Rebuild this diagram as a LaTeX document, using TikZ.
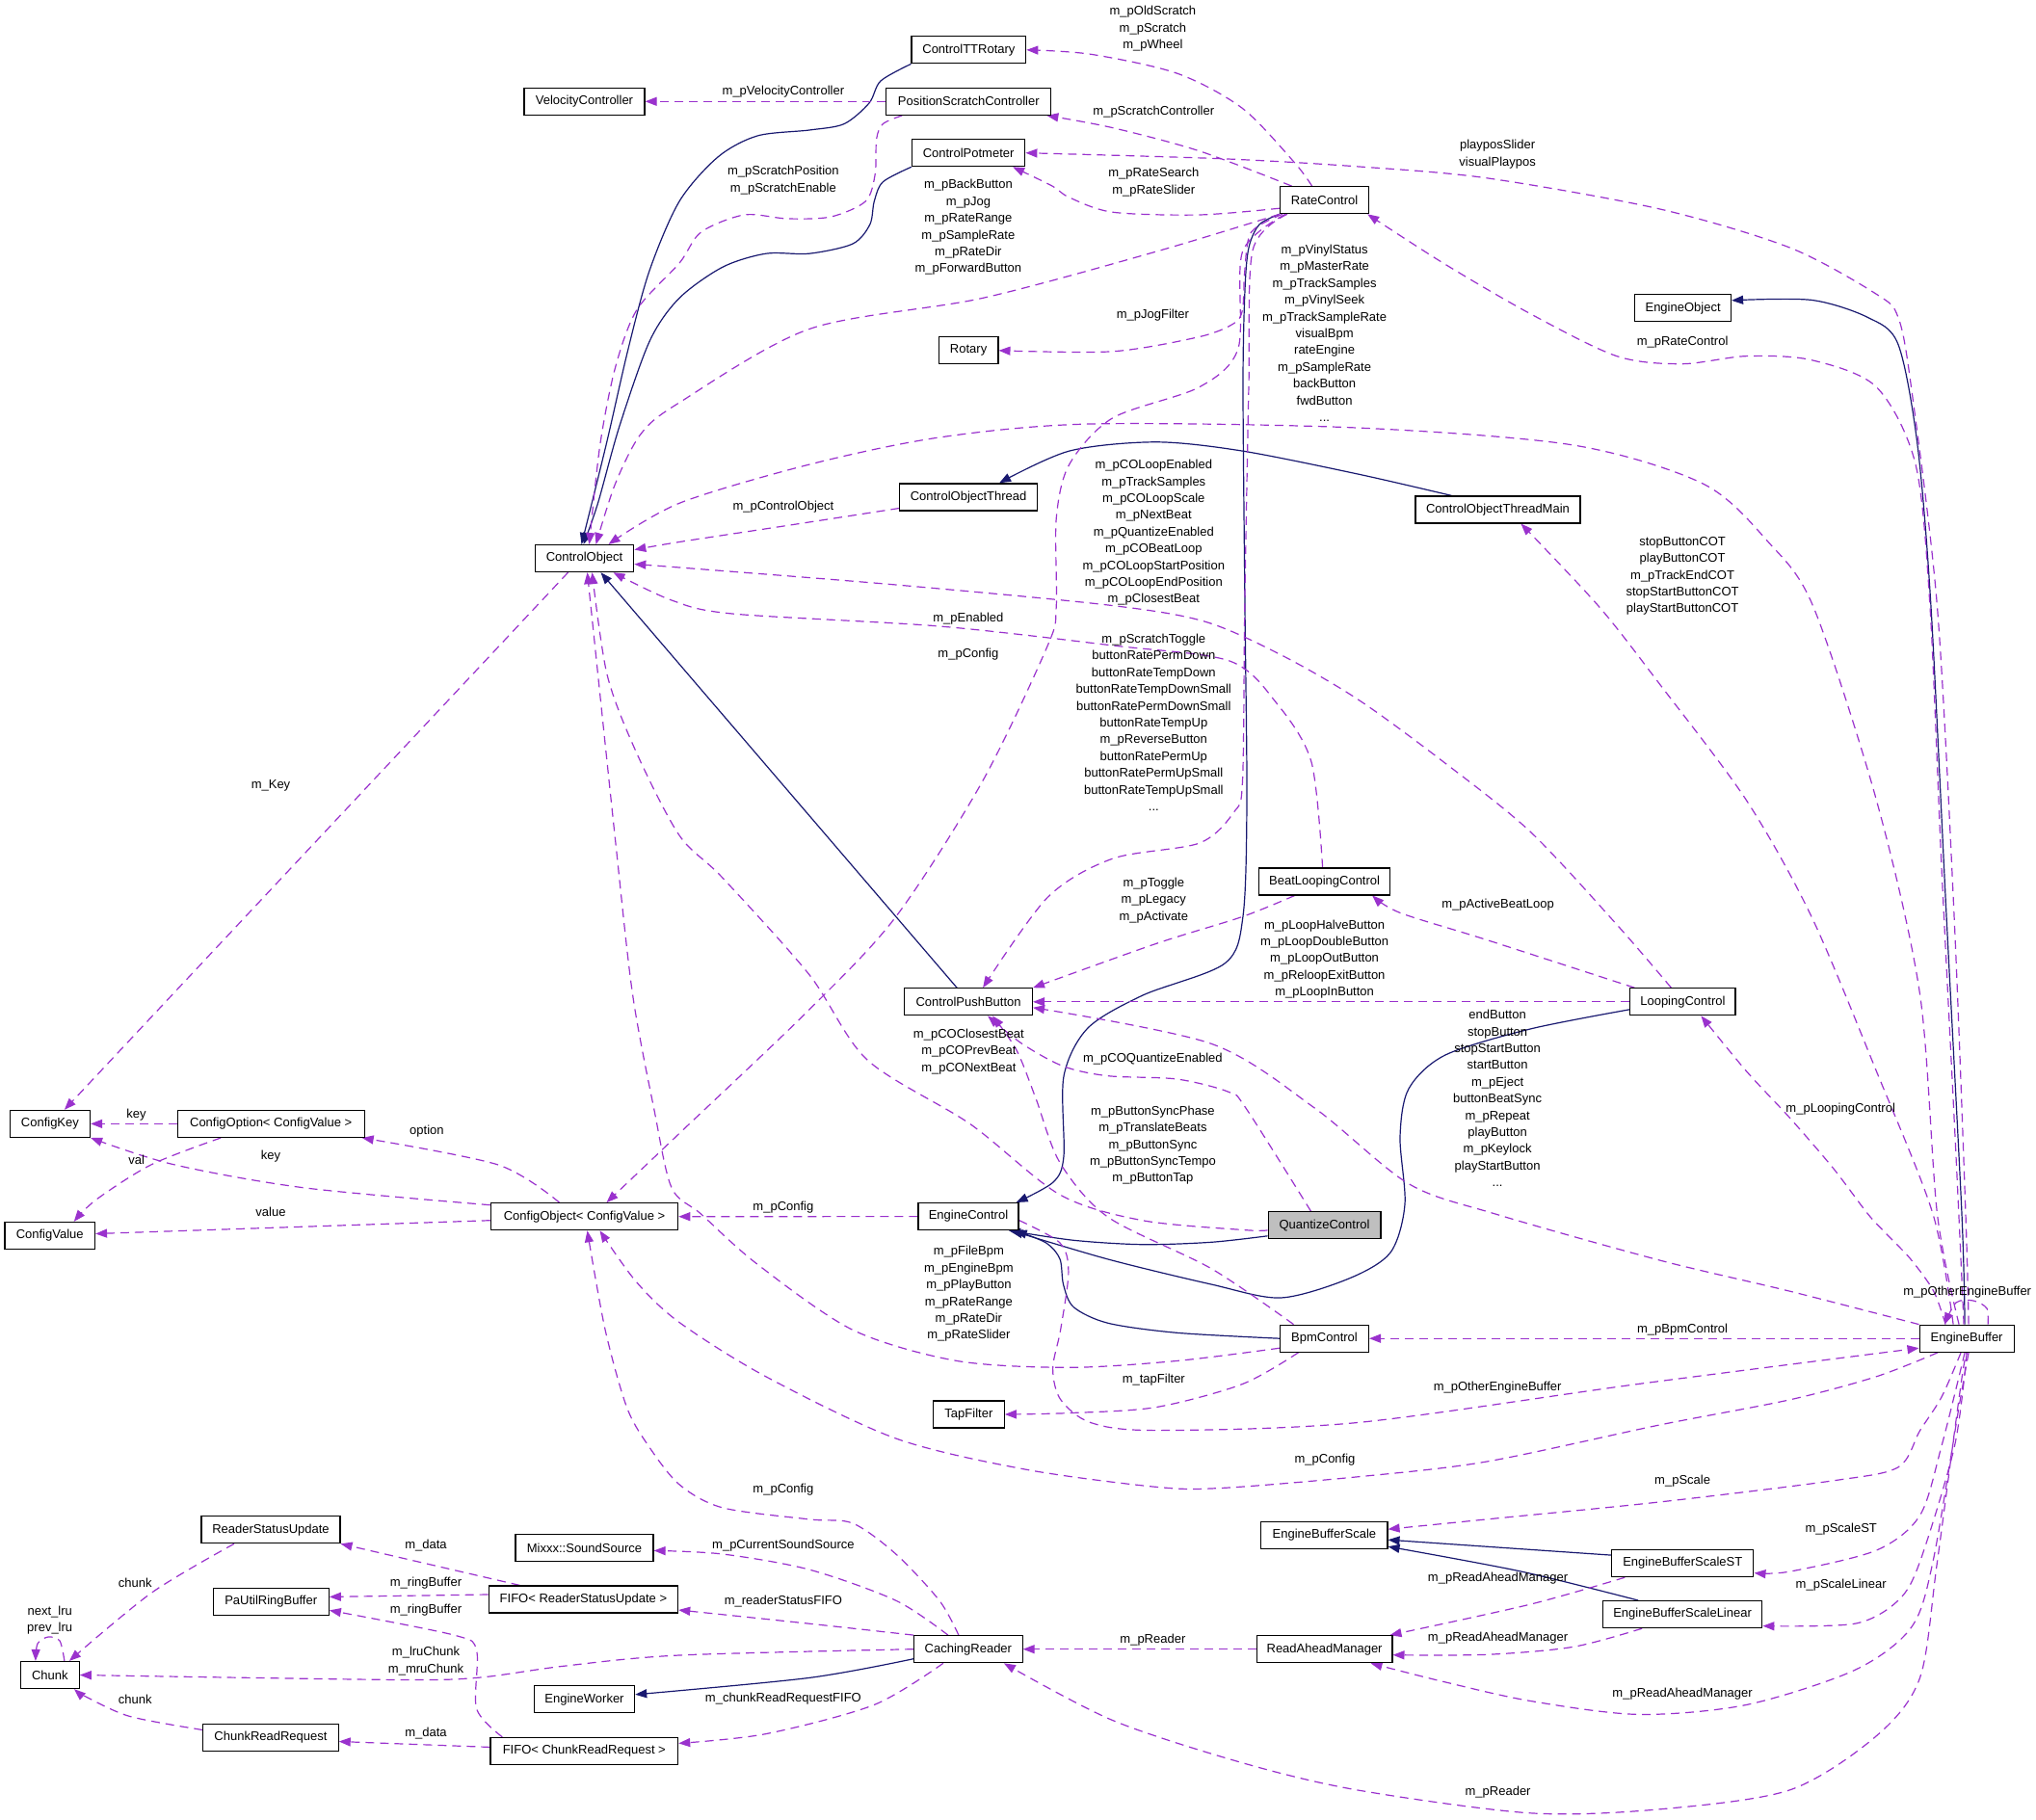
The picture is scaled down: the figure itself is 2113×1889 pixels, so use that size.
\documentclass[tikz,border=0pt]{standalone}
\usepackage{fontspec}
\setmainfont{Liberation Sans}
\usetikzlibrary{arrows.meta}
\definecolor{purp}{RGB}{154,50,205}
\definecolor{navyb}{RGB}{25,25,112}
\pgfdeclarelayer{edges}
\pgfsetlayers{edges,main}
\begin{document}
\begin{tikzpicture}[x=1pt,y=-1pt,
  cls/.style={draw=black, line width=1.2pt, fill=white, font=\fontsize{13}{17.4}\selectfont, minimum height=28pt, inner xsep=3pt, inner ysep=0pt},
  lbl/.style={font=\fontsize{13}{17.4}\selectfont, align=center, inner sep=0pt},
  usg/.style={draw=purp, line width=1.2pt, dash pattern=on 9pt off 6pt, -{Triangle[length=12pt,width=9pt]}},
  inh/.style={draw=navyb, line width=1.2pt, -{Triangle[length=12pt,width=9pt]}}]
\useasboundingbox (0,0) rectangle (2113,1889);
% classes
\node[cls, minimum width=125pt] (vc) at (606.5,105.3) {VelocityController};
\node[cls, minimum width=118.7pt] (ctt) at (1005.4,51.8) {ControlTTRotary};
\node[cls, minimum width=170.9pt] (psc) at (1005.3,105.3) {PositionScratchController};
\node[cls, minimum width=117.4pt] (cpot) at (1005.1,158.7) {ControlPotmeter};
\node[cls, minimum width=92pt] (rate) at (1374.6,207.7) {RateControl};
\node[cls, minimum width=99.8pt] (eobj) at (1746.6,319.8) {EngineObject};
\node[cls, minimum width=61.6pt] (rot) at (1005.1,363.8) {Rotary};
\node[cls, minimum width=142.5pt] (cot) at (1005.1,515.9) {ControlObjectThread};
\node[cls, minimum width=170.9pt] (cotm) at (1554.5,529) {ControlObjectThreadMain};
\node[cls, minimum width=102.5pt] (co) at (606.5,579.6) {ControlObject};
\node[cls, minimum width=136pt] (blc) at (1374.6,914.9) {BeatLoopingControl};
\node[cls, minimum width=132.6pt] (cpb) at (1005.1,1039.8) {ControlPushButton};
\node[cls, minimum width=109.3pt] (lc) at (1746.4,1039.8) {LoopingControl};
\node[cls, minimum width=83.2pt] (ckey) at (51.9,1166.4) {ConfigKey};
\node[cls, minimum width=193.8pt] (copt) at (281.2,1166.4) {ConfigOption< ConfigValue >};
\node[cls, minimum width=194.3pt] (cobj) at (606.5,1262.7) {ConfigObject< ConfigValue >};
\node[cls, minimum width=93.6pt] (cval) at (51.7,1282.5) {ConfigValue};
\node[cls, minimum width=104pt] (ec) at (1005,1262.6) {EngineControl};
\node[cls, minimum width=116.8pt, fill=gray!50] (qc) at (1374.5,1271.8) {QuantizeControl};
\node[cls, minimum width=91.8pt] (bpm) at (1374.5,1389.2) {BpmControl};
\node[cls, minimum width=98pt] (eb) at (2041.1,1389.2) {EngineBuffer};
\node[cls, minimum width=73.7pt] (tap) at (1005.4,1468) {TapFilter};
\node[cls, minimum width=131.1pt] (ebs) at (1374.4,1593.2) {EngineBufferScale};
\node[cls, minimum width=147.1pt] (ebst) at (1746.3,1622.6) {EngineBufferScaleST};
\node[cls, minimum width=165.4pt] (ebsl) at (1746.1,1675.6) {EngineBufferScaleLinear};
\node[cls, minimum width=143.9pt] (rsu) at (281,1587.7) {ReaderStatusUpdate};
\node[cls, minimum width=120.1pt] (purb) at (281.2,1662.4) {PaUtilRingBuffer};
\node[cls, minimum width=143pt] (mss) at (606.5,1606.4) {Mixxx::SoundSource};
\node[cls, minimum width=196.5pt] (fifo1) at (605.4,1660) {FIFO< ReaderStatusUpdate >};
\node[cls, minimum width=60.7pt] (chunk) at (51.9,1738.5) {Chunk};
\node[cls, minimum width=104.3pt] (ew) at (606.5,1763.8) {EngineWorker};
\node[cls, minimum width=112.4pt] (cr) at (1004.9,1711.7) {CachingReader};
\node[cls, minimum width=140.6pt] (ram) at (1374.6,1711.7) {ReadAheadManager};
\node[cls, minimum width=140.3pt] (crr) at (281,1803.5) {ChunkReadRequest};
\node[cls, minimum width=194.7pt] (fifo2) at (606.3,1817.4) {FIFO< ChunkReadRequest >};

\begin{pgfonlayer}{edges}
% inheritance
\draw[inh] plot[smooth] coordinates {(ctt.south west) (914,84) (902,107) (876,128.6) (840,135) (786,141) (745,163) (705,209) (674,281) (652,362) (629,462) ([xshift=-3pt]co.north)};
\draw[inh] plot[smooth] coordinates {(cpot.south west) (916.3,188.8) (907.3,208.9) (902.8,233) (884.9,253.1) (839.9,263.2) (794.9,263.2) (750,277.2) (705,309.4) (674.4,353.6) (643,442) (620.5,522.3) ([xshift=-1pt]co.north)};
\draw[inh] ([xshift=-12pt]cpb.north) -- ([xshift=17pt]co.south);
\draw[inh] plot[smooth] coordinates {([xshift=-48pt]cotm.north) (1410,492.2) (1289.5,468.1) (1199.6,458.8) (1109.7,468.1) ([xshift=32pt]cot.north)};
\draw[inh] plot[smooth] coordinates {([xshift=-2pt]eb.north) (2036,1260) (2020,950) (2004,630) (1990,462) (1970,357.6) (1938.5,329.5) (1880,311.4) ([yshift=8pt]eobj.east)};
\draw[inh] plot[smooth] coordinates {([yshift=-11pt]qc.west) (1257,1289.3) (1185.7,1291.7) (1114.3,1287.3) ([xshift=42pt]ec.south)};
\draw[inh] plot[smooth] coordinates {(bpm.west) (1221.4,1383.3) (1150,1373.3) (1114.3,1356.7) (1103.6,1333.3) (1100,1306.7) (1085.7,1290) ([xshift=-4pt]ec.south east)};
\draw[inh] plot[smooth] coordinates {([yshift=-8pt]lc.west) (1588,1068) (1500,1095) (1462,1130) (1453,1180) (1458,1250) (1443,1300) (1400,1327) (1329,1347) (1257,1333) (1150,1307) ([xshift=-8pt]ec.south east)};
\draw[inh] plot[smooth] coordinates {(rate.south west) (1307,233) (1296,257) (1292,301) (1290,402) (1292,630) (1294,831) (1290,951) (1271,1000) (1186,1033) (1129,1067) (1104,1117) (1104,1200) (1093,1227) ([xshift=-3pt]ec.north east)};
\draw[inh] ([yshift=8.5pt]ebst.west) -- ([yshift=-5pt]ebs.east);
\draw[inh] plot[smooth] coordinates {([xshift=-46pt]ebsl.north) (1578.9,1631.1) ([yshift=-12pt]ebs.east)};
\draw[inh] plot[smooth] coordinates {([yshift=-10pt]cr.west) (839.9,1741.4) ([yshift=5pt]ew.east)};
% usage
\draw[usg] (psc.west) -- (vc.east);
\draw[usg] plot[smooth] coordinates {([xshift=-69pt]psc.south) (916.3,128.6) (909.6,144.6) (908.2,180.8) (898.3,208.9) (862.4,225) (817.4,227) (772.4,223) (727.5,241) (705,273.2) (661,321.4) (638.5,381.7) (622.7,462) ([xshift=5pt]co.north)};
\draw[usg] plot[smooth] coordinates {([xshift=-13pt]rate.north) (1343.5,168.8) (1289.5,112.5) (1222,76.3) (1132.1,56.3) (ctt.east)};
\draw[usg] plot[smooth] coordinates {([xshift=-34pt]rate.north) (1244.6,156.7) (1154.6,132.6) ([xshift=-5pt]psc.south east)};
\draw[usg] plot[smooth] coordinates {([yshift=-8.5pt]rate.west) (1244.6,223) (1154.6,220.2) (1109.7,204.9) (1091.7,192.9) ([xshift=46pt]cpot.south)};
\draw[usg] plot[smooth] coordinates {(rate.south west) (1199.6,261.2) (1019.7,309.4) (839.9,341.5) (705,417.9) (665.4,450) (638.5,502.2) ([xshift=12pt]co.north)};
\draw[usg] plot[smooth] coordinates {([xshift=3pt]rate.south west) (1298.5,241) (1291.8,281.3) (1289.5,321.4) (1280,336) (1244.6,349.6) (1154.6,364.8) (rot.east)};
\draw[usg] plot[smooth] coordinates {([xshift=6pt]rate.south west) (1289.5,261.2) (1285,361.6) (1244.6,401.8) (1154.6,433.9) (1109.7,482.1) (1096.2,538.4) (1096.2,630) (1087.2,670.2) (1019.7,810.8) (929.8,951.4) (839.9,1047.9) (705,1176.4) ([xshift=23pt]cobj.north)};
\draw[usg] plot[smooth] coordinates {([xshift=8pt]rate.south west) (1300,260) (1296,400) (1291.8,630) (1289.5,810.8) (1280.5,843) (1244.6,875.1) (1154.6,891.2) (1087.2,931.4) ([xshift=15pt]cpb.north)};
\draw[usg] plot[smooth] coordinates {([xshift=2pt]eb.north) (2040,1260) (2028,950) (2010.5,630) (1983.5,401.8) (1970,329.5) (1947.5,305.4) (1857.6,257.1) (1722.7,217) (1542.9,184.8) (1408,172.8) (1267,164.7) (cpot.east)};
\draw[usg] plot[smooth] coordinates {([xshift=-3pt]eb.north) (2030,1200) (2015,900) (2003,630) (1988,482) (1947.5,401.8) (1880,373.7) (1812.7,369.6) (1745.2,377.7) (1677.8,369.6) (1587.9,325.5) (1498,273.2) ([xshift=-2pt]rate.south east)};
\draw[usg] plot[smooth] coordinates {([xshift=-8pt]eb.north) (2010.5,1260) (1992.5,1031.8) (1947.5,830.9) (1882,630) (1835.1,562.5) (1767.7,502.2) (1632.8,462) (1408,444) (1132,440) (974.8,454) (839.9,482.1) (705,522.3) ([xshift=25pt]co.north)};
\draw[usg] plot[smooth] coordinates {([xshift=-14pt]eb.north) (2006,1260) (1947.5,1112.1) (1880,951.4) (1812.7,831) (1722.7,710.4) (1659.8,630) ([xshift=24pt]cotm.south)};
\draw[usg] plot[smooth] coordinates {(eb.north west) (1857.6,1340.2) (1722.7,1308.1) (1551.9,1260) (1461.9,1228.6) (1364.3,1150) (1257.1,1083.3) ([yshift=-6pt]cpb.east)};
\draw[usg] plot[smooth] coordinates {([xshift=-22pt]eb.north) (2006.7,1340) (1983,1307) (1960,1283) (1938.5,1260) (1902.6,1212.6) (1857.6,1160.4) (1812.7,1112.1) ([xshift=19pt]lc.south)};
\draw[usg] (eb.west) -- (bpm.east);
\draw[usg] plot[smooth] coordinates {([xshift=22pt]eb.north) (2062,1358) (2048,1350) (2030,1352) ([xshift=-23pt]eb.north)};
\draw[usg] plot[smooth] coordinates {([yshift=-4pt]ec.east) (1100,1290) (1108.9,1320) (1100.7,1380) (1092.6,1420.5) (1100.7,1452.6) (1132.1,1476.6) (1199.6,1484.6) (1408,1476.6) (1700,1436.5) ([yshift=-10pt]eb.west)};
\draw[usg] plot[smooth] coordinates {([xshift=-30pt]eb.south) (1947.5,1428.7) (1857.6,1452.8) (1722.7,1478.9) (1542.9,1517) (1408,1532.9) (1267,1544.5) (1199.6,1543.3) (1064.7,1525.2) (929.8,1493) (794.9,1428.8) (705,1372.5) (660,1330) ([xshift=16pt]cobj.south)};
\draw[usg] plot[smooth] coordinates {([xshift=-6pt]eb.south) (2015,1450) (1992.5,1484.9) (1970,1522.8) (1902.6,1536.8) (1722.7,1558.9) (1542.9,1576.9) ([yshift=6pt]ebs.east)};
\draw[usg] plot[smooth] coordinates {([xshift=-2pt]eb.south) (2015,1500.8) (1992.5,1572.9) (1947.5,1609) (1857.6,1631.1) ([yshift=-10pt]ebst.east)};
\draw[usg] plot[smooth] coordinates {(eb.south) (2028.5,1500.8) (1992.5,1621) (1970,1661.1) (1925.1,1685.2) ([yshift=-12pt]ebsl.east)};
\draw[usg] plot[smooth] coordinates {([xshift=2pt]eb.south) (2033,1460.6) (2006,1621) (1983.5,1689.2) (1925.1,1733.3) (1812.7,1769.4) (1700.2,1779.4) (1587.9,1765.4) (1497.9,1745.4) ([xshift=-23pt]ram.south east)};
\draw[usg] plot[smooth] coordinates {([xshift=4pt]eb.south) (2037.5,1420.5) (2010.5,1621) (1992.5,1741.4) (1947.5,1801.6) (1857.6,1857.8) (1722.7,1877.8) (1587.9,1881.8) (1408,1857.8) (1289.5,1829.7) (1154.6,1785.5) ([xshift=37pt]cr.south)};
\draw[usg] plot[smooth] coordinates {([xshift=-31pt]blc.south) (1289.5,951.4) (1199.6,979.5) (cpb.north east)};
\draw[usg] (lc.west) -- (cpb.east);
\draw[usg] plot[smooth] coordinates {([xshift=-50pt]lc.north) (1542.9,975.5) (1453,947.4) ([xshift=-19pt]blc.south east)};
\draw[usg] plot[smooth] coordinates {([xshift=-12pt]lc.north) (1677.8,959.5) (1587.9,863) (1498,790.7) (1410,726.4) (1330,680) (1250,645) (1150,628) (930,607) (705,589) ([yshift=-6pt]co.east)};
\draw[usg] plot[smooth] coordinates {([xshift=-2pt]blc.north) (1361,791) (1325,730) (1276,686) (1155,670) (975,650) (760,637) (697,623) ([xshift=30pt]co.south)};
\draw[usg] plot[smooth] coordinates {([yshift=-11.6pt]cot.west) (820,545) (705,562.5) ([yshift=9pt]co.east)};
\draw[usg] plot[smooth] coordinates {([yshift=-5pt]qc.west) (1292.9,1276.7) (1185.7,1266.7) (1100,1240) (1007,1166.7) (900,1100) (839.9,1011.7) (750,911.2) (705,867) (660,780) (630,700) ([xshift=8pt]co.south)};
\draw[usg] plot[smooth] coordinates {([yshift=-10pt]bpm.west) (1222,1412.4) (1109.7,1419.3) (992.8,1412.4) (884.9,1380.3) (785.9,1312.1) (727.5,1260) (697,1232.7) (679,1152.3) (656.5,1031.8) (638.5,871) ([xshift=3pt]co.south)};
\draw[usg] plot[smooth] coordinates {([xshift=-14pt]qc.north) (1292.9,1150) (1275,1133.3) (1221.4,1120) (1150,1116.7) (1103.6,1106.7) (1060.7,1083.3) ([xshift=20pt]cpb.south)};
\draw[usg] plot[smooth] coordinates {([xshift=-32pt]bpm.north) (1257.1,1316.7) (1150,1263.3) (1100,1206.7) (1075,1140) (1055,1090) ([xshift=25pt]cpb.south)};
\draw[usg] plot[smooth] coordinates {([xshift=-27pt]bpm.south) (1289.5,1436.5) (1199.6,1460.6) (1109.7,1466.6) (tap.east)};
\draw[usg] (ec.west) -- (cobj.east);
\draw[usg] plot[smooth] coordinates {([xshift=-26pt]cobj.north) (517,1209) ([xshift=-3pt]copt.south east)};
\draw[usg] plot[smooth] coordinates {([yshift=12pt]cobj.west) (314.7,1232.7) (179.9,1208.6) (ckey.south east)};
\draw[usg] ([yshift=-4pt]cobj.west) -- ([yshift=2pt]cval.east);
\draw[usg] (copt.west) -- (ckey.east);
\draw[usg] plot[smooth] coordinates {([xshift=-52pt]copt.south) (157.4,1208.6) (100,1245) ([xshift=25pt]cval.north)};
\draw[usg] ([xshift=-17pt]co.south) -- ([xshift=15pt]ckey.north);
\draw[usg] plot[smooth] coordinates {([xshift=-10pt]cr.north) (974.8,1661.1) (929.8,1613) (884.9,1581) (839.9,1576.9) (750,1564.9) (705,1540.8) (673,1500.7) (650.5,1460.6) (628.1,1380.3) ([xshift=3pt]cobj.south)};
\draw[usg] plot[smooth] coordinates {([xshift=-21pt]cr.north) (929.8,1661.2) (839.9,1629.1) (750,1613) ([yshift=-3pt]mss.east)};
\draw[usg] plot[smooth] coordinates {(cr.north west) (839.9,1685.2) ([yshift=-11pt]fifo1.east)};
\draw[usg] plot[smooth] coordinates {(cr.west) (705,1718) (584.5,1729.3) (494.6,1741.4) (404.7,1743.4) (chunk.east)};
\draw[usg] plot[smooth] coordinates {([xshift=-26pt]cr.south) (907.3,1769.4) (794.9,1799.6) ([yshift=8pt]fifo2.east)};
\draw[usg] (ram.west) -- (cr.east);
\draw[usg] plot[smooth] coordinates {([xshift=-60pt]ebst.south) (1587.9,1665.2) ([xshift=-3pt]ram.north east)};
\draw[usg] plot[smooth] coordinates {([xshift=-42pt]ebsl.south) (1632.8,1709.3) (1542.9,1717.3) ([yshift=-6pt]ram.east)};
\draw[usg] ([xshift=-66pt]fifo1.north) -- (rsu.south east);
\draw[usg] ([yshift=5pt]fifo1.west) -- ([yshift=5pt]purb.east);
\draw[usg] plot[smooth] coordinates {([xshift=-85pt]fifo2.north) (494.6,1773.5) (494.6,1713.3) (472.1,1697.3) ([yshift=-9pt]purb.east)};
\draw[usg] ([yshift=4pt]fifo2.west) -- ([yshift=-4pt]crr.east);
\draw[usg] plot[smooth] coordinates {([xshift=-38pt]rsu.south) (157.4,1653.1) ([xshift=20pt]chunk.north)};
\draw[usg] plot[smooth] coordinates {([yshift=8pt]crr.west) (134.9,1781.5) (89.9,1761.4) ([xshift=25pt]chunk.south)};
\draw[usg] plot[smooth] coordinates {([xshift=15pt]chunk.north) (62,1703) (50,1699) (39,1706) ([xshift=-15pt]chunk.north)};
\end{pgfonlayer}

% labels
\node[lbl] (l1) at (1196.4,30) {m\_pOldScratch\\m\_pScratch\\m\_pWheel};
\node[lbl] (l2) at (812.9,95.6) {m\_pVelocityController};
\node[lbl] (l3) at (1197.3,116.5) {m\_pScratchController};
\node[lbl] (l4) at (812.9,187) {m\_pScratchPosition\\m\_pScratchEnable};
\node[lbl] (l5) at (1197.3,189.3) {m\_pRateSearch\\m\_pRateSlider};
\node[lbl] (l6) at (1004.9,236) {m\_pBackButton\\m\_pJog\\m\_pRateRange\\m\_pSampleRate\\m\_pRateDir\\m\_pForwardButton};
\node[lbl] (l7) at (1554.1,160) {playposSlider\\visualPlaypos};
\node[lbl] (l8) at (1196.4,327.5) {m\_pJogFilter};
\node[lbl] (l9) at (1746.1,354.8) {m\_pRateControl};
\node[lbl] (l10) at (1374.6,345.7) {m\_pVinylStatus\\m\_pMasterRate\\m\_pTrackSamples\\m\_pVinylSeek\\m\_pTrackSampleRate\\visualBpm\\rateEngine\\m\_pSampleRate\\backButton\\fwdButton\\...};
\node[lbl] (l11) at (812.9,526.3) {m\_pControlObject};
\node[lbl] (l12) at (1197.3,552.9) {m\_pCOLoopEnabled\\m\_pTrackSamples\\m\_pCOLoopScale\\m\_pNextBeat\\m\_pQuantizeEnabled\\m\_pCOBeatLoop\\m\_pCOLoopStartPosition\\m\_pCOLoopEndPosition\\m\_pClosestBeat};
\node[lbl] (l13) at (1746.1,598) {stopButtonCOT\\playButtonCOT\\m\_pTrackEndCOT\\stopStartButtonCOT\\playStartButtonCOT};
\node[lbl] (l14) at (1004.9,642.5) {m\_pEnabled};
\node[lbl] (l15) at (1197.3,749.7) {m\_pScratchToggle\\buttonRatePermDown\\buttonRateTempDown\\buttonRateTempDownSmall\\buttonRatePermDownSmall\\buttonRateTempUp\\m\_pReverseButton\\buttonRatePermUp\\buttonRatePermUpSmall\\buttonRateTempUpSmall\\...};
\node[lbl] (l16) at (1004.9,679.4) {m\_pConfig};
\node[lbl] (l17) at (281,815.6) {m\_Key};
\node[lbl] (l18) at (1197.3,934.5) {m\_pToggle\\m\_pLegacy\\m\_pActivate};
\node[lbl] (l19) at (1554.6,939.4) {m\_pActiveBeatLoop};
\node[lbl] (l20) at (1374.6,995.6) {m\_pLoopHalveButton\\m\_pLoopDoubleButton\\m\_pLoopOutButton\\m\_pReloopExitButton\\m\_pLoopInButton};
\node[lbl] (l21) at (1554.1,1140) {endButton\\stopButton\\stopStartButton\\startButton\\m\_pEject\\buttonBeatSync\\m\_pRepeat\\playButton\\m\_pKeylock\\playStartButton\\...};
\node[lbl] (l22) at (1910.2,1150.7) {m\_pLoopingControl};
\node[lbl] (l23) at (1005.4,1091.4) {m\_pCOClosestBeat\\m\_pCOPrevBeat\\m\_pCONextBeat};
\node[lbl] (l24) at (1196.4,1099.3) {m\_pCOQuantizeEnabled};
\node[lbl] (l25) at (1196.4,1188.8) {m\_pButtonSyncPhase\\m\_pTranslateBeats\\m\_pButtonSync\\m\_pButtonSyncTempo\\m\_pButtonTap};
\node[lbl] (l26) at (442.9,1174.4) {option};
\node[lbl] (l27) at (141.6,1157.3) {key};
\node[lbl] (l28) at (141.6,1203.8) {val};
\node[lbl] (l29) at (281,1200.5) {key};
\node[lbl] (l30) at (281,1258) {value};
\node[lbl] (l31) at (812.9,1252.7) {m\_pConfig};
\node[lbl] (l32) at (1005.4,1343) {m\_pFileBpm\\m\_pEngineBpm\\m\_pPlayButton\\m\_pRateRange\\m\_pRateDir\\m\_pRateSlider};
\node[lbl] (l33) at (2041.7,1340.7) {m\_pOtherEngineBuffer};
\node[lbl] (l34) at (1746.1,1379.7) {m\_pBpmControl};
\node[lbl] (l35) at (1197.3,1431.7) {m\_tapFilter};
\node[lbl] (l36) at (1554.1,1439.7) {m\_pOtherEngineBuffer};
\node[lbl] (l37) at (1375,1515.6) {m\_pConfig};
\node[lbl] (l38) at (1746.1,1536.8) {m\_pScale};
\node[lbl] (l39) at (812.9,1546.4) {m\_pConfig};
\node[lbl] (l40) at (1910.7,1586.9) {m\_pScaleST};
\node[lbl] (l41) at (812.9,1604.6) {m\_pCurrentSoundSource};
\node[lbl] (l42) at (442,1603.8) {m\_data};
\node[lbl] (l43) at (1554.6,1638.3) {m\_pReadAheadManager};
\node[lbl] (l44) at (140.3,1643.1) {chunk};
\node[lbl] (l45) at (442,1643.5) {m\_ringBuffer};
\node[lbl] (l46) at (1910.7,1645.1) {m\_pScaleLinear};
\node[lbl] (l47) at (812.9,1662.4) {m\_readerStatusFIFO};
\node[lbl] (l48) at (442,1671.6) {m\_ringBuffer};
\node[lbl] (l49) at (51.7,1681.6) {next\_lru\\prev\_lru};
\node[lbl] (l50) at (1554.6,1700.4) {m\_pReadAheadManager};
\node[lbl] (l51) at (1196.4,1702.5) {m\_pReader};
\node[lbl] (l52) at (442,1724) {m\_lruChunk\\m\_mruChunk};
\node[lbl] (l53) at (1746.1,1758.6) {m\_pReadAheadManager};
\node[lbl] (l54) at (812.9,1763.4) {m\_chunkReadRequestFIFO};
\node[lbl] (l55) at (140.3,1764.2) {chunk};
\node[lbl] (l56) at (442,1798.8) {m\_data};
\node[lbl] (l57) at (1554.6,1860.5) {m\_pReader};
\end{tikzpicture}
\end{document}
